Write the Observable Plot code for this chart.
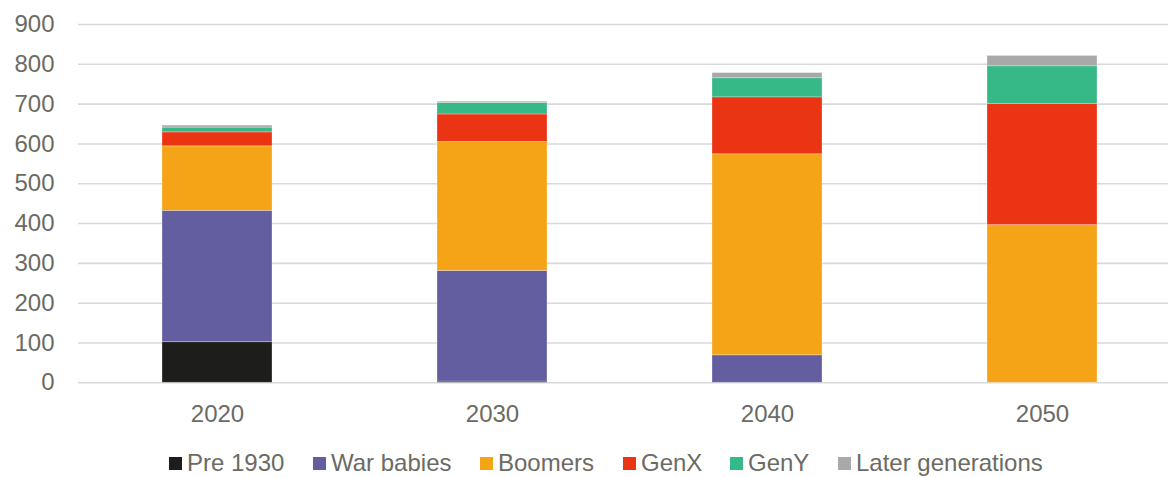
<!DOCTYPE html>
<html>
<head>
<meta charset="utf-8">
<script src="https://cdn.jsdelivr.net/npm/d3@7"></script>
<script src="https://cdn.jsdelivr.net/npm/@observablehq/plot@0.6"></script>
<style>
  html, body { margin: 0; padding: 0; background: #fff; }
  body { width: 1168px; height: 477px; overflow: hidden; font-family: "Liberation Sans", Arial, sans-serif; }
  #chart svg { display: block; }
  #legend { position: relative; height: 37px; }
  .item { position: absolute; top: 12px; line-height: 22px; font-size: 24px; color: #6b6b64; white-space: nowrap; }
  .sw { display: inline-block; width: 13px; height: 13px; margin-right: 5px; vertical-align: 1px; }
</style>
</head>
<body>
<div id="chart"></div>
<div id="legend"></div>
<script>
const years = ["2020", "2030", "2040", "2050"];
const generations = ["Pre 1930", "War babies", "Boomers", "GenX", "GenY", "Later generations"];
const colors = ["#1d1d1b", "#635ea0", "#f5a418", "#ea3413", "#37b887", "#a9a9a9"];
const pre1930 = [102, 3, 0, 0];
const warBabies = [330, 278, 69, 0];
const boomers = [162, 324, 505, 396];
const genX = [35, 69, 143, 304];
const genY = [12, 29, 48, 95];
const later = [5, 3, 13, 26];
const yTicks = [0, 100, 200, 300, 400, 500, 600, 700, 800, 900];
const legendX = [169, 313, 480, 623, 730, 838];

const series = [pre1930, warBabies, boomers, genX, genY, later];
const rows = [];
generations.forEach((g, gi) => {
  years.forEach((yr, yi) => rows.push({year: yr, gen: g, value: series[gi][yi]}));
});

const textColor = "#6b6b64";
const chart = Plot.plot({
  width: 1168,
  height: 440,
  marginLeft: 78,
  marginRight: 0,
  marginTop: 24,
  marginBottom: 57.7,
  style: {fontFamily: '"Liberation Sans", Arial, sans-serif', fontSize: "24px", color: textColor, background: "#fff"},
  x: {domain: years, range: [78, 1180], paddingInner: 0.6, paddingOuter: 0.3, label: null},
  y: {domain: [0, 900], label: null},
  color: {domain: generations, range: colors},
  marks: [
    Plot.ruleY(yTicks, {stroke: "#d9d9d9", strokeWidth: 1.6}),
    Plot.barY(rows, {x: "year", y: "value", fill: "gen", order: generations, stroke: "white", strokeOpacity: 0.35, strokeWidth: 0.8}),
    Plot.axisY(yTicks, {tickSize: 0, tickPadding: 24, fontSize: 24, fill: textColor, label: null}),
    Plot.axisX(years, {tickSize: 0, tickPadding: 22, fontSize: 24, fill: textColor, label: null})
  ]
});
document.getElementById("chart").appendChild(chart);

const legend = document.getElementById("legend");
generations.forEach((g, i) => {
  const it = document.createElement("div");
  it.className = "item";
  it.style.left = legendX[i] + "px";
  const sw = document.createElement("span");
  sw.className = "sw";
  sw.style.background = colors[i];
  it.appendChild(sw);
  it.appendChild(document.createTextNode(g));
  legend.appendChild(it);
});
</script>
</body>
</html>
